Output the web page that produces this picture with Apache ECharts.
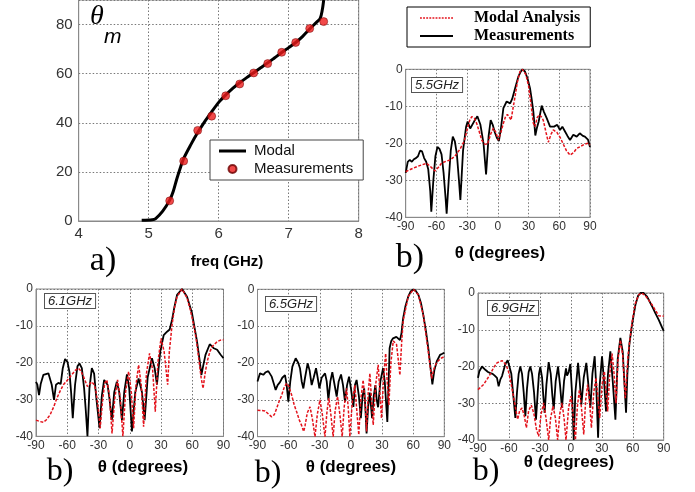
<!DOCTYPE html>
<html>
<head>
<meta charset="utf-8">
<script src="https://cdn.jsdelivr.net/npm/echarts@6/dist/echarts.min.js"></script>
<style>html,body{margin:0;padding:0;background:#fff}#c{width:695px;height:492px}</style>
</head>
<body>
<div id="c"></div>
<script>
// ---------- Panel a: scan angle vs frequency ----------
const freqTicks = [4, 5, 6, 7, 8];
const modalCurve = [[4.9,0.3],[5.05,0.5],[5.1,1],[5.2,4],[5.3,8.5],[5.35,12],[5.4,17],[5.45,21.5],[5.5,25.5],[5.6,31],[5.7,36],[5.8,40.5],[5.9,44.5],[6.0,48.3],[6.1,51.3],[6.2,54],[6.3,56.3],[6.4,58.4],[6.5,60.4],[6.6,62.4],[6.7,64.4],[6.8,66.5],[6.9,68.6],[7.0,70.6],[7.1,72.7],[7.2,75.2],[7.3,78.2],[7.4,81],[7.45,82.5],[7.48,86],[7.5,90]];
const measuredAngle = [[5.3,8.2],[5.5,24.4],[5.7,36.9],[5.9,42.7],[6.1,51],[6.3,55.8],[6.5,60.3],[6.7,64.1],[6.9,68.7],[7.1,72.7],[7.3,78.4],[7.5,81.2]];

// ---------- Panels b: radiation patterns [theta deg, dB] ----------
const meas55 = [[-90,-28],[-88,-25],[-86,-24.5],[-84,-25],[-82,-24.3],[-80,-24],[-78,-23.5],[-76,-22],[-74,-22.2],[-72,-24],[-70,-25],[-68,-27],[-66,-33],[-65,-38.5],[-63,-30],[-61,-23.5],[-59,-21],[-57,-21.5],[-55,-23],[-53,-28],[-51,-35],[-50,-39],[-48,-30],[-46,-22],[-44,-18.2],[-42,-19.5],[-40,-23],[-38,-30],[-36.6,-35.3],[-34,-22],[-31,-15.5],[-29.5,-14.1],[-27,-16],[-25.5,-16.4],[-23,-14],[-20,-12.7],[-17,-15],[-14,-20],[-11.5,-28.4],[-9,-18],[-7,-13.7],[-5,-15],[-3,-17],[-1,-18.5],[1,-19.4],[3,-16],[5.4,-10.5],[8.6,-8.7],[10,-8.8],[12,-9.2],[14,-8],[17,-5],[20,-2],[22,-0.8],[24,0],[26.5,-0.6],[29,-2.5],[31.4,-5.1],[33,-8],[34.7,-11.5],[36.6,-17.9],[38,-16],[39.9,-14.1],[42.8,-9.8],[45,-11.5],[47.7,-13.2],[51,-15.5],[54.9,-15.5],[58,-15],[60.7,-16.4],[63,-15.5],[65.6,-16.8],[68,-18],[70.5,-19.1],[73.7,-17.7],[77,-18.2],[80,-17.3],[83,-18],[85,-18.2],[88,-19],[90,-21]];
const modal55 = [[-90,-27.7],[-85,-27],[-79,-26.3],[-74,-25.8],[-69.5,-25.4],[-65,-26.5],[-61.4,-27.5],[-58,-26.5],[-54.8,-25.3],[-50,-24.8],[-46.7,-24.5],[-42,-23.5],[-37,-21.6],[-33,-19.5],[-30.4,-16.8],[-27.5,-13.8],[-25.5,-12.8],[-23,-13.2],[-20.7,-14.6],[-18,-17],[-15.8,-19.1],[-13,-20.2],[-10.2,-20.3],[-7,-17.5],[-4.4,-15.9],[-2,-17],[0.5,-19.1],[3,-17],[5.4,-14.6],[7.5,-12.8],[9.3,-12.2],[11,-12.8],[12.9,-13.7],[14.5,-11],[16.8,-7.4],[19,-3.5],[21.6,-0.6],[24,0],[25.5,-0.3],[27.5,-1.5],[30,-4.5],[32,-8.7],[34.7,-14.6],[36.3,-15.5],[38.5,-13],[40.5,-12.3],[43,-13],[44.4,-13.8],[47,-17],[49.3,-19.7],[52,-17.5],[54.2,-16.4],[57.5,-17],[61,-18.5],[64,-20.3],[67,-22],[70.5,-23.2],[74,-22.5],[77,-21.4],[81,-20.8],[85,-20.2],[88,-20],[90,-20.5]];

const meas61 = [[-90,-25.2],[-88.7,-26],[-87.1,-28.8],[-85.5,-25.8],[-82.9,-23.3],[-78.1,-22.9],[-76.5,-23],[-74.9,-26],[-72.7,-30.1],[-70.8,-26],[-68.5,-25.5],[-66.3,-25.8],[-64.3,-21.5],[-62.1,-19],[-59.8,-19.8],[-57.9,-22.5],[-56.3,-28],[-54.7,-35.1],[-52.5,-26],[-50.2,-21],[-48.3,-20.2],[-46,-21.5],[-43.8,-27],[-42.2,-33],[-40.6,-40],[-38.7,-27],[-36.4,-21.5],[-34.2,-23],[-32.3,-29],[-29,-37.8],[-26.8,-29],[-24.6,-24.7],[-21.3,-26],[-19.4,-30],[-17.2,-35.6],[-14.9,-28],[-12.4,-25.2],[-10.1,-28],[-7.5,-35.6],[-5.3,-28],[-2.7,-23.2],[-0.5,-27],[2.1,-38.7],[5.3,-28],[8.5,-24.3],[11.7,-28],[14.3,-35.6],[17.2,-24],[21.3,-18.8],[23.9,-21.5],[26.1,-26],[29.3,-17],[32.6,-12.5],[35.8,-11.6],[38.3,-11],[40.6,-8.4],[42.8,-5],[45.4,-1.6],[50.2,0],[55,-2.1],[59.8,-6.6],[64.6,-14.3],[66.9,-19],[68.8,-23.3],[70.4,-21],[72.7,-17.9],[76.8,-15],[80.7,-16.1],[83.9,-16.5],[87.1,-17.8],[90,-18.8]];
const modal61 = [[-90,-35.6],[-86,-36],[-83,-36.2],[-80,-35.5],[-76.5,-34.2],[-73,-32],[-70,-29.7],[-67,-27.8],[-63.7,-26],[-60,-24.8],[-55.7,-23.3],[-52,-22],[-49.3,-21.5],[-47,-22.2],[-44.4,-23.8],[-42,-25.5],[-40.6,-26.5],[-38.5,-25.8],[-36.4,-25.2],[-34,-26],[-32.3,-28],[-30,-33],[-28.4,-37.8],[-26,-30],[-24,-25.5],[-22,-24.7],[-19.5,-29],[-17,-39.2],[-14.5,-30],[-11.7,-24.7],[-9,-30],[-6.6,-40],[-4,-28],[-1.1,-22.4],[1.5,-28],[3.7,-37.8],[6,-26],[8.5,-20.6],[11,-26],[13.3,-37.4],[16,-23],[19,-17.5],[22,-22],[24.5,-33.3],[27,-20],[30,-13.4],[33,-17],[36.4,-26],[38,-17],[40.6,-9.8],[43,-5],[45.4,-2.1],[50.2,0],[55,-2.4],[58,-5.5],[61.4,-9.8],[64,-14],[66.2,-18.8],[68.5,-24],[70.4,-27],[72.3,-23],[74.3,-19.7],[77,-17],[79,-15.7],[83.9,-14.3],[87,-13.9],[90,-13.8]];

const meas65 = [[-90,-25],[-87.6,-22.8],[-84.4,-23.2],[-82.1,-22.5],[-79.6,-22.2],[-76.3,-23.7],[-74.4,-25.5],[-72.5,-27.3],[-70.6,-26],[-68.3,-25.2],[-66.1,-24],[-63.5,-23.3],[-61.9,-26],[-60.3,-30.5],[-58.4,-25],[-56.4,-21],[-53.2,-18.7],[-50.7,-20],[-49,-21.5],[-47.4,-25],[-45.8,-26.9],[-44.2,-24],[-41.7,-20.1],[-39.8,-22],[-37.8,-26],[-35.9,-24],[-33.6,-21.4],[-32,-24],[-30.4,-26.9],[-28.2,-24],[-24.9,-22.8],[-23.3,-25],[-21.7,-30],[-19.8,-25],[-17.9,-22.5],[-16,-25.5],[-13.7,-29.1],[-11.8,-25],[-9.5,-23.1],[-7.6,-26],[-5.7,-30.5],[-3.7,-26],[-1.8,-23.7],[0.1,-27],[2.4,-31.9],[3.9,-26],[5.5,-24.6],[7.7,-29],[9.6,-35],[11.2,-29],[12.8,-26.9],[14.1,-33],[15.1,-39.1],[16.6,-32],[18.2,-28],[20.4,-35],[22,-29],[23.6,-26],[24.9,-30],[26.2,-32],[28.4,-25],[31,-21.4],[32.6,-25],[34.2,-32],[35.1,-36],[36.4,-25],[37.3,-16],[38.9,-14],[40.6,-13.3],[43.8,-12.9],[47.3,-13.8],[48.7,-12],[50.3,-7.9],[52.6,-4.5],[55.2,-2],[57.6,-0.6],[60.2,0],[62.4,-0.4],[65,-1.5],[67.6,-3.8],[69.8,-7],[72.4,-11.5],[74.6,-16],[76.6,-21],[78.5,-25.8],[80.4,-22],[82.7,-19.6],[85.9,-17.8],[88.1,-17.5],[90,-17.2]];
const modal65 = [[-90,-32.8],[-82.8,-33],[-78.9,-34],[-76.3,-34.6],[-73.8,-34],[-71.5,-32.3],[-69.3,-30.5],[-66.7,-28.7],[-64.1,-26.5],[-61.9,-25.5],[-59.6,-26.5],[-57.1,-28.7],[-54.5,-31.5],[-52.3,-33.2],[-49.7,-35.5],[-47.4,-37],[-45.5,-38.6],[-44.2,-37],[-42,-33.5],[-39.4,-31.9],[-37.2,-35],[-34.6,-40],[-32.4,-34],[-29.8,-30],[-27.5,-34],[-25,-40],[-23,-33],[-21.2,-29.5],[-19.3,-34],[-17.1,-40],[-15.2,-33],[-12.9,-29.1],[-10.6,-34],[-8.4,-40],[-6.5,-32],[-4.2,-26.9],[-2.6,-32],[-1,-40],[1.2,-31],[3.8,-26],[5.7,-33],[7.6,-39.5],[9.5,-30],[11.8,-24.6],[13.5,-30],[15.1,-38.6],[16.7,-28],[18.3,-22.8],[19.9,-30],[21.5,-36.8],[23.8,-26],[26.3,-20.5],[27.9,-28],[29.5,-35],[31.5,-24],[33.5,-17.4],[35,-25],[36.6,-31.4],[38.5,-20],[40.8,-14],[42.4,-14.2],[44,-15],[45.6,-19],[47.2,-23.3],[48.8,-15],[50.4,-8.5],[55.2,-2],[60.2,0],[65,-1.5],[69.8,-7],[74.6,-17],[77.8,-24.2],[80.1,-21.5],[82.7,-19.8],[86.9,-18.7],[90,-18.3]];

const meas69 = [[-90,-23.1],[-88.7,-21.3],[-86.1,-20],[-82.9,-20.9],[-80.3,-21.5],[-78,-21.8],[-75.8,-22],[-73.8,-22.5],[-71.6,-23.1],[-70,-25.4],[-68.3,-23.5],[-66.7,-22.6],[-63.5,-19.3],[-61.2,-18.3],[-59.3,-17.9],[-57.7,-22],[-56.4,-26],[-53.8,-34],[-52.2,-27],[-50.6,-22],[-49,-20],[-47.3,-22],[-45.7,-27],[-44.1,-33.5],[-42.5,-26],[-40.9,-21.5],[-39.3,-20],[-37.6,-22],[-35.7,-27],[-33.8,-34.5],[-32.1,-27],[-30.9,-22],[-29.6,-20.1],[-27.9,-23],[-26.7,-28],[-25.4,-32.6],[-23.7,-25],[-21.5,-18.8],[-19.5,-22],[-17.9,-28],[-16.6,-31.7],[-14.7,-24],[-12.4,-20],[-10.5,-25],[-8.6,-31.3],[-6.6,-24],[-4.7,-20.5],[-3.7,-22.5],[-2.1,-21.5],[-0.5,-19.3],[1.1,-27],[2.8,-40],[4.4,-27],[7,-19],[8.6,-24],[10.2,-30.4],[12.5,-23],[15,-19],[17,-25],[18.9,-31.3],[20.9,-22],[23.1,-17.2],[24.7,-26],[26.4,-39.4],[28,-25],[30.2,-17.2],[32.2,-24],[34.1,-32.2],[36,-22],[38.3,-15.9],[40.6,-24],[43.2,-34.5],[45.4,-18],[48,-12.2],[50.3,-16],[52.2,-26],[53.5,-32.6],[54.8,-22],[56.7,-14],[59.3,-8.6],[62.6,-3.2],[65.1,-0.8],[67.4,0],[70.6,0],[73.9,-1],[78.7,-3.6],[81.9,-5.5],[85.2,-7.3],[90,-10.4]];
const modal69 = [[-90,-26.3],[-84.5,-24.9],[-81.3,-23.5],[-78,-22],[-74.8,-20.3],[-71.6,-19],[-66.7,-18.4],[-62.9,-19.5],[-60.3,-21.5],[-57.7,-25],[-55.4,-28.5],[-53.2,-32],[-51.5,-34.4],[-49.6,-32],[-47.3,-31.3],[-45.1,-33.5],[-43.1,-36.7],[-40.9,-32],[-38.3,-30.5],[-35.7,-33],[-33.4,-37],[-31.2,-39],[-28.9,-33],[-26.3,-29.9],[-24.1,-34],[-21.5,-40],[-19.6,-34],[-17.3,-30.8],[-15,-34],[-12.8,-40],[-10.8,-33],[-8.6,-29.9],[-6.6,-34],[-4.7,-40],[-2.1,-31],[0.2,-28.1],[2.1,-33],[4.4,-40],[6.3,-31],[8.3,-26.3],[10.2,-31],[12.5,-38.5],[14.4,-29],[16.3,-24.9],[18,-29],[19.9,-36.7],[22.2,-27],[24.4,-23.1],[26.1,-28],[28,-34],[30.2,-25],[32.5,-21.3],[34.1,-27],[35.7,-32.2],[37.7,-22],[40,-16.5],[41.9,-22],[43.8,-30],[45.7,-18],[48,-12.8],[50.3,-17],[52.8,-28.6],[55.4,-17],[59.3,-8],[62.6,-2.8],[65.8,-0.5],[68.4,0],[72.2,-0.7],[78.7,-3.2],[85.2,-6.2],[90,-6.3]];

const freqLabels = ['5.5GHz', '6.1GHz', '6.5GHz', '6.9GHz'];
const thetaTicks = [-90, -60, -30, 0, 30, 60, 90];
const dbTicks = [-40, -30, -20, -10, 0];

// ---------- layout ----------
const grids = [
  {left: 78.7, top: 0, width: 280, height: 221},
  {left: 405.7, top: 69.3, width: 184.3, height: 148},
  {left: 36, top: 289, width: 187.5, height: 147.3},
  {left: 257.5, top: 289.3, width: 186.8, height: 147.4},
  {left: 478, top: 293, width: 185.7, height: 147}
].map(g => Object.assign({show: true, borderColor: '#8a8a8a', borderWidth: 1, backgroundColor: '#fff', containLabel: false}, g));

const split = {show: true, lineStyle: {color: '#777', type: [1.5, 2], width: 1}};
const axLine = {show: true, onZero: false, lineStyle: {color: '#8a8a8a', width: 1}};

const xAxes = [{
  gridIndex: 0, type: 'value', min: freqTicks[0], max: freqTicks[freqTicks.length - 1], interval: 1,
  axisLine: axLine, axisTick: {show: false}, splitLine: split,
  axisLabel: {fontSize: 15, color: '#333', margin: 5, fontFamily: 'Liberation Sans'}
}];
const yAxes = [{
  gridIndex: 0, type: 'value', min: 0, max: 90, interval: 20,
  axisLine: axLine, axisTick: {show: false}, splitLine: split,
  axisLabel: {fontSize: 15, color: '#333', margin: 6, fontFamily: 'Liberation Sans', formatter: v => (v > 80 ? '' : v)}
}];
for (let i = 1; i <= 4; i++) {
  xAxes.push({
    gridIndex: i, type: 'value', min: thetaTicks[0], max: thetaTicks[thetaTicks.length - 1], interval: 30,
    axisLine: axLine, axisTick: {show: false}, splitLine: split,
    axisLabel: {fontSize: 12, color: '#333', margin: 3, fontFamily: 'Liberation Sans'}
  });
  yAxes.push({
    gridIndex: i, type: 'value', min: dbTicks[0], max: dbTicks[dbTicks.length - 1], interval: 10,
    axisLine: axLine, axisTick: {show: false}, splitLine: split,
    axisLabel: {fontSize: 12, color: '#333', margin: 3, fontFamily: 'Liberation Sans'}
  });
}

const redStyle = {color: '#e3121b', width: 1.5, type: [3, 1.6]};
const blackStyle = {color: '#000', width: 1.8};
const patterns = [[meas55, modal55], [meas61, modal61], [meas65, modal65], [meas69, modal69]];

const series = [
  {name: 'Modal', type: 'line', xAxisIndex: 0, yAxisIndex: 0, data: modalCurve, symbol: 'none', smooth: 0.3,
   lineStyle: {color: '#000', width: 3}, itemStyle: {color: '#000'}, z: 2},
  {name: 'Measurements', type: 'scatter', xAxisIndex: 0, yAxisIndex: 0, data: measuredAngle, symbolSize: 8,
   itemStyle: {color: '#ee1c1c', borderColor: '#6a0000', borderWidth: 0.6}, z: 3}
];
patterns.forEach(([m, r], k) => {
  series.push({name: 'Measurements ', type: 'line', xAxisIndex: k + 1, yAxisIndex: k + 1, data: m, symbol: 'none',
    lineStyle: blackStyle, itemStyle: {color: '#000'}, clip: true, z: 2});
  series.push({name: 'Modal Analysis', type: 'line', xAxisIndex: k + 1, yAxisIndex: k + 1, data: r, symbol: 'none',
    lineStyle: redStyle, itemStyle: {color: '#e3121b'}, clip: true, z: 3});
});

// legend icons drawn as plain line paths (no marker in the middle)
const solidIcon = (w, h) => 'path://M0,0H' + w + 'V' + h + 'H0Z';
let dotted = '';
for (let x = 0; x < 33; x += 3) dotted += 'M' + x + ',0h1.8v1.6h-1.8z';
const dottedIcon = 'path://' + dotted;

const txt = (x, y, text, font, align) => ({type: 'text', x, y, z: 100,
  style: {text, font, fill: '#000', textAlign: align || 'center', textVerticalAlign: 'middle'}});
const box = (x, y, text) => ({type: 'text', x, y, z: 100,
  style: {text, font: 'italic 13px "Liberation Sans"', fill: '#222', textAlign: 'left', textVerticalAlign: 'top',
    backgroundColor: '#fff', borderColor: '#555', borderWidth: 1, padding: [1, 3, 0, 3]}});

const graphics = [
  txt(90, 17, 'θ', 'italic 28px "Liberation Serif"', 'left'),
  txt(104, 37, 'm', 'italic 21px "Liberation Sans"', 'left'),
  txt(103, 261, 'a)', '34px "Liberation Serif"'),
  txt(227, 262, 'freq (GHz)', 'bold 15px "Liberation Sans"'),
  txt(410, 258, 'b)', '34px "Liberation Serif"'),
  txt(500, 253, 'θ (degrees)', 'bold 17px "Liberation Sans"'),
  txt(60, 472, 'b)', '32px "Liberation Serif"'),
  txt(143, 467, 'θ (degrees)', 'bold 17px "Liberation Sans"'),
  txt(268, 474, 'b)', '32px "Liberation Serif"'),
  txt(351, 467, 'θ (degrees)', 'bold 17px "Liberation Sans"'),
  txt(486, 472, 'b)', '32px "Liberation Serif"'),
  txt(569, 462, 'θ (degrees)', 'bold 17px "Liberation Sans"'),
  box(412, 78, freqLabels[0]),
  box(45, 294, freqLabels[1]),
  box(266, 297, freqLabels[2]),
  box(488, 301, freqLabels[3])
];

const chart = echarts.init(document.getElementById('c'), null, {renderer: 'canvas'});
chart.setOption({
  animation: false,
  backgroundColor: '#fff',
  grid: grids,
  xAxis: xAxes,
  yAxis: yAxes,
  legend: [
    {left: 210, top: 140, orient: 'vertical', selectedMode: false,
     data: [{name: 'Modal', icon: solidIcon(27, 3)}, {name: 'Measurements', icon: 'circle'}],
     itemWidth: 27, itemHeight: 8, itemGap: 0, padding: [2, 10, 2, 9],
     borderColor: '#444', borderWidth: 1, backgroundColor: '#fff',
     textStyle: {fontSize: 15, fontFamily: 'Liberation Sans', color: '#111', lineHeight: 18, padding: [0, 0, 0, 3]}},
    {left: 407, top: 7, orient: 'vertical', selectedMode: false,
     data: [{name: 'Modal Analysis', icon: dottedIcon}, {name: 'Measurements ', icon: solidIcon(33, 2)}],
     itemWidth: 33, itemHeight: 8, itemGap: 0, padding: [2, 10, 2, 13],
     borderColor: '#000', borderWidth: 1, backgroundColor: '#fff',
     textStyle: {fontSize: 16, fontFamily: 'Liberation Serif', fontWeight: 'bold', color: '#000', lineHeight: 18, padding: [0, 0, 0, 16]}}
  ],
  series,
  graphic: graphics
});
</script>
</body>
</html>
